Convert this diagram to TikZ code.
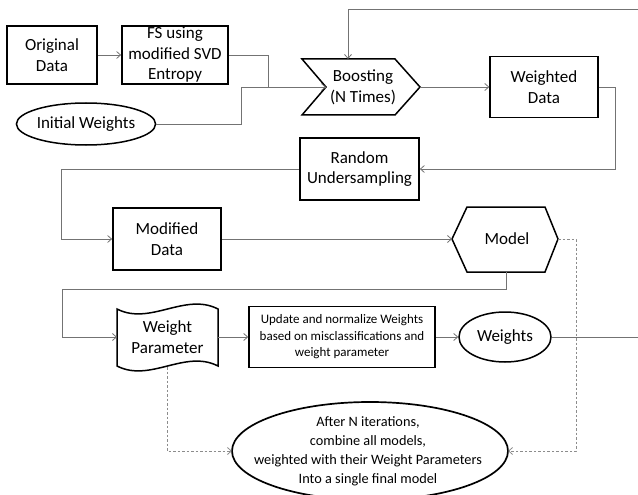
\documentclass[tikz,border=0pt]{standalone}
\usepackage{fontspec}
\setmainfont{Carlito}
\usetikzlibrary{arrows.meta,shapes.geometric}
\begin{document}
\begin{tikzpicture}[x=1pt,y=-1pt,
  font=\fontsize{17}{20.5}\selectfont,
  tip/.tip={Straight Barb[length=4pt,width=7pt,line width=0.8pt]},
  box/.style={draw, line width=1.7pt, align=center, inner sep=0pt},
  thinbox/.style={draw, line width=1.3pt, align=center, inner sep=0pt},
  oval/.style={draw, ellipse, line width=1.5pt, inner sep=0pt},
  shapeline/.style={line width=1.5pt, line join=miter},
  conn/.style={draw=black!55, line width=0.8pt, -tip},
  plainline/.style={draw=black!55, line width=0.8pt},
  dsh/.style={draw=black!45, line width=0.8pt, dash pattern=on 2.5pt off 2pt, -tip},
  lbl/.style={align=center, inner sep=0pt},
]
\useasboundingbox (0,0) rectangle (638,495);

% nodes
\node[box, minimum width=90, minimum height=58] (od) at (52,55) {Original\\Data};
\node[box, minimum width=106, minimum height=58] (fs) at (175,55) {FS using\\modified SVD\\Entropy};
\node[oval, minimum width=138, minimum height=42] (iw) at (86,124) {Initial Weights};

% Boosting
\draw[shapeline] (302,59) -- (395,59) -- (420,87) -- (395,115) -- (302,115) -- (326,87) -- cycle;
\node[lbl] (boost) at (363,87.5) {Boosting\\(N Times)};
\coordinate (bin) at (326,87);
\coordinate (bout) at (420,87);
\coordinate (btop) at (348,59);

\node[thinbox, minimum width=108, minimum height=61] (wd) at (544,87) {Weighted\\Data};
\node[box, minimum width=119, minimum height=62] (ru) at (359.5,169) {Random\\Undersampling};
\node[box, minimum width=108, minimum height=62] (md) at (167,239) {Modified\\Data};

% Model
\draw[shapeline] (452,239) -- (467,207) -- (545,207) -- (558,239) -- (545,272) -- (467,272) -- cycle;
\node[lbl] (model) at (507,239) {Model};
\coordinate (min) at (452,239);
\coordinate (mout) at (558,239);
\coordinate (mbot) at (506,272);

% Weight Parameter
\draw[shapeline] (117,309) .. controls (150,326) and (185,292) .. (218,309)
  -- (218,366) .. controls (185,349) and (150,383) .. (117,366) -- cycle;
\node[lbl] (wp) at (167.5,337) {Weight\\Parameter};
\coordinate (wpL) at (117,337);
\coordinate (wpR) at (218,337);
\coordinate (wpB) at (167,367);

\node[box, line width=1.5pt, minimum width=186, minimum height=61,
  font=\fontsize{13}{16.5}\selectfont] (upd) at (342,337) {Update and normalize Weights\\based on misclassifications and\\weight parameter};
\node[oval, minimum width=92, minimum height=50] (wts) at (505,337) {Weights};

% final ellipse
\draw[line width=1.7pt] (370,451) ellipse [x radius=138, y radius=49];
\node[lbl, font=\fontsize{14.3}{19}\selectfont] (fin) at (368,451.5) {After N iterations,\\combine all models,\\weighted with their Weight Parameters\\Into a single final model};
\coordinate (finW) at (232,451);
\coordinate (finE) at (508,451);

% edge coordinates
\coordinate (topR) at (638,9);
\coordinate (outR) at (638,337);

% connectors
\draw[conn] (od.east) -- (fs.west);
\draw[conn] (fs.east) -- ++(40,0) |- (bin);
\draw[plainline] (iw.east) -- ++(85,0) |- (bin);
\draw[conn] (topR) -| (btop);
\draw[conn] (bout) -- (wd.west);
\draw[conn] (wd.east) -- ++(17,0) |- (ru.east);
\draw[conn] (ru.west) -- ++(-238,0) |- (md.west);
\draw[conn] (md.east) -- (min);
\draw[conn] (mbot) -- ++(0,17) -| ++(-444,0) |- (wpL);
\draw[conn] (wpR) -- (upd.west);
\draw[conn] (upd.east) -- (wts.west);
\draw[plainline] (wts.east) -- (outR);
\draw[dsh] (mout) -- ++(18,0) |- (finE);
\draw[dsh] (wpB) |- (finW);
\end{tikzpicture}
\end{document}
